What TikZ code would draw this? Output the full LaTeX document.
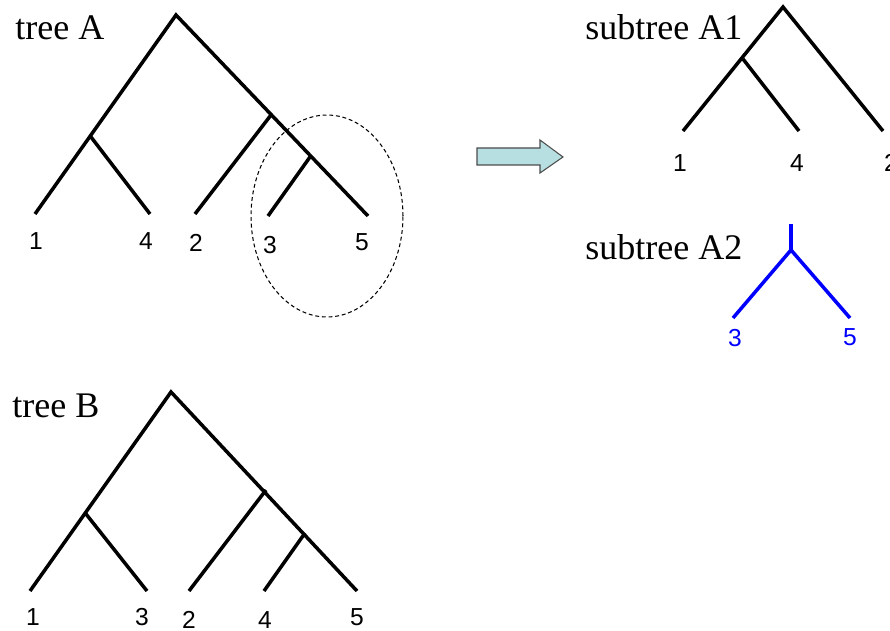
\documentclass[tikz,border=0pt]{standalone}
\usepackage{fontspec}
\setmainfont{Liberation Serif}
\newfontfamily\arialfont{Liberation Sans}
\begin{document}
\begin{tikzpicture}[x=0.02cm,y=-0.02cm,
  branch/.style={line width=2pt,line cap=butt},
  bluebranch/.style={branch,draw={rgb,255:red,0;green,0;blue,255}},
  leaflbl/.style={font=\arialfont\fontsize{14}{16}\selectfont,inner sep=0pt},
  title/.style={font=\fontsize{20.5}{24}\selectfont,inner sep=0pt,anchor=base west}]
\useasboundingbox (0,0) rectangle (890,631);
\definecolor{arrowfill}{RGB}{183,222,224}
\definecolor{leafblue}{RGB}{0,0,255}
% ---------- tree A ----------
\node[title] (tA) at (15,40) {tree A};
\coordinate (aR) at (176,15);
\coordinate (a14) at (91,137);
\coordinate (a235) at (271,115);
\coordinate (a35) at (310,157);
\coordinate (a1) at (35,214);
\coordinate (a4) at (150,214);
\coordinate (a2) at (195,214);
\coordinate (a3) at (268,216);
\coordinate (a5) at (368,216);
\draw[branch] (a1) -- (aR) -- (a5);
\draw[branch] (a14) -- (a4);
\draw[branch] (a235) -- (a2);
\draw[branch] (a35) -- (a3);
\node[leaflbl] (la1) at (36,241) {1};
\node[leaflbl] (la4) at (146,241) {4};
\node[leaflbl] (la2) at (196,243) {2};
\node[leaflbl] (la3) at (270,245) {3};
\node[leaflbl] (la5) at (362,242) {5};
\draw[dashed,line width=0.6pt,dash pattern=on 2.2pt off 1.6pt] (327,216) ellipse [x radius=1.52cm,y radius=2.02cm];
% ---------- arrow ----------
\draw[fill=arrowfill,draw=black!70,line width=0.6pt]
  (477,148) -- (540,148) -- (540,140) -- (563,157) -- (540,173) -- (540,165) -- (477,165) -- cycle;
% ---------- subtree A1 ----------
\node[title] (tA1) at (585,40) {subtree A1};
\coordinate (bR) at (783,7);
\coordinate (b14) at (743,59);
\coordinate (b1) at (683,131);
\coordinate (b4) at (799,131);
\coordinate (b2) at (883,131);
\draw[branch] (b1) -- (bR) -- (b2);
\draw[branch] (b14) -- (b4);
\node[leaflbl] (lb1) at (680,163) {1};
\node[leaflbl] (lb4) at (797,163) {4};
\node[leaflbl] (lb2) at (891,163) {2};
% ---------- subtree A2 ----------
\node[title] (tA2) at (585,260) {subtree A2};
\coordinate (cTop) at (791,224);
\coordinate (cJ) at (791,250);
\coordinate (c3) at (733,318);
\coordinate (c5) at (850,318);
\draw[bluebranch] (cTop) -- (cJ);
\draw[bluebranch] (c3) -- (cJ) -- (c5);
\node[leaflbl,text=leafblue] (lc3) at (735,338) {3};
\node[leaflbl,text=leafblue] (lc5) at (850,337) {5};
% ---------- tree B ----------
\node[title] (tB) at (12,418) {tree B};
\coordinate (dR) at (171,392);
\coordinate (d13) at (86,514);
\coordinate (d245) at (266,490);
\coordinate (d45) at (305,533);
\coordinate (d1) at (30,591);
\coordinate (d3) at (147,591);
\coordinate (d2) at (189,591);
\coordinate (d4) at (264,591);
\coordinate (d5) at (357,591);
\draw[branch] (d1) -- (dR) -- (d5);
\draw[branch] (d13) -- (d3);
\draw[branch] (d245) -- (d2);
\draw[branch] (d45) -- (d4);
\node[leaflbl] (ld1) at (33,617) {1};
\node[leaflbl] (ld3) at (142,617) {3};
\node[leaflbl] (ld2) at (189,620) {2};
\node[leaflbl] (ld4) at (265,620) {4};
\node[leaflbl] (ld5) at (357,617) {5};
\end{tikzpicture}
\end{document}
